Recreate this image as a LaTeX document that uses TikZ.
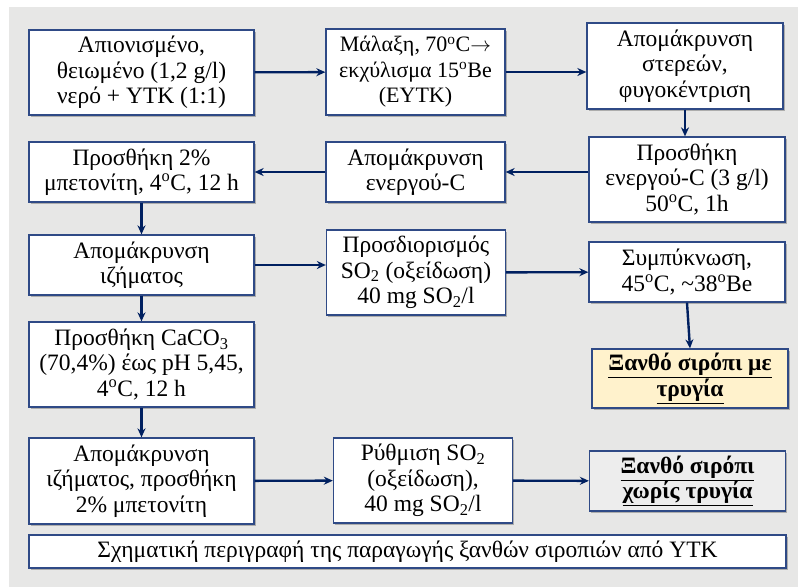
\documentclass[tikz,border=0pt]{standalone}
\usepackage{fontspec}
\setmainfont{Liberation Serif}
\usetikzlibrary{arrows.meta,shadows}
\definecolor{frameblue}{RGB}{47,74,134}
\definecolor{arrownavy}{RGB}{0,32,96}
\definecolor{panelgray}{RGB}{231,231,230}
\definecolor{leesyellow}{RGB}{255,242,204}
\definecolor{leesgray}{RGB}{237,237,237}
\tikzset{stage/.style={draw=frameblue,fill=white,line width=1.3pt,align=center,inner sep=2pt,
    font=\fontsize{23.5}{25.5}\selectfont,
    drop shadow={shadow xshift=1.8pt,shadow yshift=-1.8pt,fill=black,opacity=0.25}},
  final/.style={stage,font=\fontsize{23.5}{25.5}\selectfont\bfseries},
  flow/.style={draw=arrownavy,line width=2.4pt,-{Stealth[length=9pt,width=8pt]}}}
\newcommand{\dg}{\textsuperscript{o}}

\begin{document}
\begin{tikzpicture}[x=1pt,y=-1pt]
    \useasboundingbox (0,0) rectangle (798,587);
    \fill [white] (0,0) rectangle (798,587);
    \fill [panelgray] (9,7) rectangle (798,587);
    \begin{scope}[
        every node/.append style={minimum width=225}
    ]
        \node [stage,minimum height=85] (water) at (141.5,72.5) {Απιονισμένο,\\θειωμένο (1,2 g/l)\\νερό + ΥΤΚ (1:1)};
        \node [stage,minimum height=60] (bento) at (141.5,172) {Προσθήκη 2\%\\μπετονίτη, 4\dg C, 12 h};
        \node [stage,minimum height=60] (sediment) at (141.5,265) {Απομάκρυνση\\ιζήματος};
        \node [stage,minimum height=85] (lime) at (141.5,364.5) {Προσθήκη CaCO\textsubscript{3}\\(70,4\%) έως pH 5,45,\\4\dg C, 12 h};
        \node [stage,minimum height=86] (sedimentb) at (141.5,481) {Απομάκρυνση\\ιζήματος, προσθήκη\\2\% μπετονίτη};
    \end{scope}
    \begin{scope}[
        every node/.append style={minimum width=179}
    ]
        \node [stage,minimum height=86,font=\fontsize{22}{25.5}\selectfont] (knead) at (415.5,72) {Μάλαξη, 70\dg C$\rightarrow$\\εκχύλισμα 15\dg Be\\(ΕΥΤΚ)};
        \node [stage,minimum height=60] (rmcarbon) at (415.5,172) {Απομάκρυνση\\ενεργού-C};
        \node [stage,minimum height=85] (sulf) at (416,272.5) {Προσδιορισμός\\SO\textsubscript{2} (οξείδωση)\\40 mg SO\textsubscript{2}/l};
        \node [stage,minimum height=85] (adjust) at (423,480.5) {Ρύθμιση SO\textsubscript{2}\\(οξείδωση),\\40 mg SO\textsubscript{2}/l};
    \end{scope}
    \begin{scope}[
        every node/.append style={minimum width=196}
    ]
        \node [stage,minimum height=86] (solids) at (685,66) {Απομάκρυνση\\στερεών,\\φυγοκέντριση};
        \node [stage,minimum height=85] (carbon) at (687,179.5) {Προσθήκη\\ενεργού-C (3 g/l)\\50\dg C, 1h};
        \node [stage,minimum height=60] (conc) at (687,272) {Συμπύκνωση,\\45\dg C, \textasciitilde38\dg Be};
        \node [final,minimum height=59,fill=leesyellow] (withlees) at (690,378.5) {\underline{Ξανθό σιρόπι με}\\\underline{τρυγία}};
        \node [final,minimum height=60,fill=leesgray] (nolees) at (687.5,481) {\underline{Ξανθό σιρόπι}\\\underline{χωρίς τρυγία}};
    \end{scope}
    \node [stage,minimum width=757,minimum height=33] (caption) at (407.5,551.5) {Σχηματική περιγραφή της παραγωγής ξανθών σιροπιών από ΥΤΚ};

    \draw [flow] (water) -- (knead);
    \draw [flow] (knead.east) -- (knead.east -| solids.west);
    \draw [flow] (solids.south) -- (solids.south |- carbon.north);
    \draw [flow] (carbon.west |- rmcarbon) -- (rmcarbon.east);
    \draw [flow] (rmcarbon) -- (bento);
    \draw [flow] (bento) -- (sediment);
    \draw [flow] (sediment.east) -- (sediment.east -| sulf.west);
    \draw [flow] (sulf) -- (conc);
    \draw [flow] (conc.south) -- (withlees.north);
    \draw [flow] (sediment) -- (lime);
    \draw [flow] (lime) -- (sedimentb);
    \draw [flow] (sedimentb) -- (adjust);
    \draw [flow] (adjust) -- (nolees);
\end{tikzpicture}
\end{document}
